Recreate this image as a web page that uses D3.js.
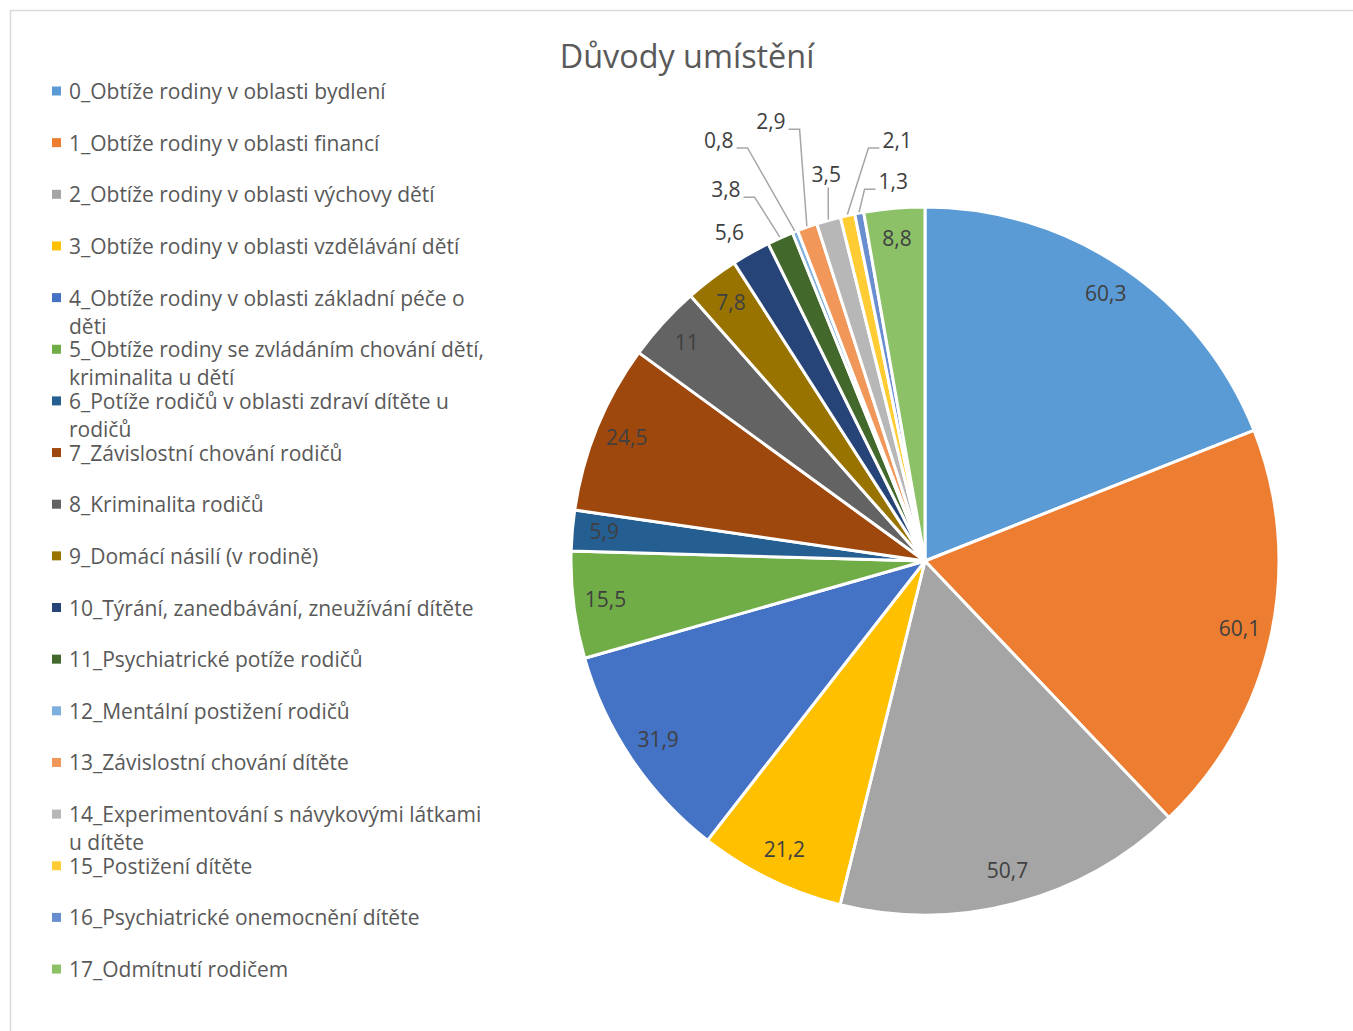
<!DOCTYPE html>
<head>
    <meta charset="utf-8">
    <script src="https://d3js.org/d3.v7.min.js"></script>
    <style>
      body { margin: 0; background: #fff; }
      text {
        font-family: "Open Sans", "Noto Sans", sans-serif;
        fill: #595959;
      }
      .charttitle { font-size: 32.4px; }
      .legendtext { font-size: 21px; }
      .datalabel { font-size: 21px; fill: #404040; }
    </style>
</head>
<body>
<script>
    var categories = [
      "0_Obtíže rodiny v oblasti bydlení",
      "1_Obtíže rodiny v oblasti financí",
      "2_Obtíže rodiny v oblasti výchovy dětí",
      "3_Obtíže rodiny v oblasti vzdělávání dětí",
      "4_Obtíže rodiny v oblasti základní péče o děti",
      "5_Obtíže rodiny se zvládáním chování dětí, kriminalita u dětí",
      "6_Potíže rodičů v oblasti zdraví dítěte u rodičů",
      "7_Závislostní chování rodičů",
      "8_Kriminalita rodičů",
      "9_Domácí násilí (v rodině)",
      "10_Týrání, zanedbávání, zneužívání dítěte",
      "11_Psychiatrické potíže rodičů",
      "12_Mentální postižení rodičů",
      "13_Závislostní chování dítěte",
      "14_Experimentování s návykovými látkami u dítěte",
      "15_Postižení dítěte",
      "16_Psychiatrické onemocnění dítěte",
      "17_Odmítnutí rodičem"
    ];
    var values = [60.3, 60.1, 50.7, 21.2, 31.9, 15.5, 5.9, 24.5, 11, 7.8, 5.6, 3.8, 0.8, 2.9, 3.5, 2.1, 1.3, 8.8];
    var colors = [
      "#5B9BD5", "#ED7D31", "#A5A5A5", "#FFC000", "#4472C4", "#70AD47",
      "#255E91", "#9E480E", "#636363", "#997300", "#264478", "#43682B",
      "#7CAFDD", "#F1975A", "#B7B7B7", "#FFCD33", "#698ED0", "#8CC168"
    ];

    // labels of the small slices sit outside the pie (radius px, angle deg from north)
    var outside = {
      10: {r: 381, a: 329.1, leader: false},
      11: {r: 420, a: 331.7, leader: true},
      12: {r: 467, a: 333.8, leader: true},
      13: {r: 464, a: 340.6, leader: true},
      14: {r: 397, a: 345.6, leader: true},
      15: {r: 420, a: 356.2, leader: true},
      16: {r: 379, a: 355.2, leader: true}
    };

    var svg_w = 1353, svg_h = 1031;
    var cx = 925, cy = 561, R = 354;

    var svg = d3.select("body").append("svg")
      .attr("width", svg_w)
      .attr("height", svg_h);

    svg.append("rect")
      .attr("x", 10.5).attr("y", 10.5)
      .attr("width", 1400).attr("height", 1100)
      .attr("fill", "none")
      .attr("stroke", "#d9d9d9")
      .attr("stroke-width", 1.5);

    svg.append("text")
      .attr("x", 687).attr("y", 55)
      .attr("text-anchor", "middle")
      .attr("dominant-baseline", "central")
      .classed("charttitle", true)
      .text("Důvody umístění");

    // PIE
    var pie = d3.pie().sort(null).value(function(d) { return d; });
    var arcs = pie(values);
    var arc = d3.arc().innerRadius(0).outerRadius(R);
    var labelArc = d3.arc().innerRadius(322).outerRadius(322);

    var g = svg.append("g").attr("transform", "translate(" + cx + "," + cy + ")");

    g.selectAll(".slice").data(arcs).enter()
      .append("path")
      .attr("d", arc)
      .attr("fill", function(d, i) { return colors[i]; })
      .attr("stroke", "#fff")
      .attr("stroke-width", 3)
      .attr("stroke-linejoin", "round");

    function fmt(v) { return String(v).replace(".", ","); }

    arcs.forEach(function(d, i) {
      var pos;
      var o = outside[i];
      if (o) {
        var rad = o.a * Math.PI / 180;
        pos = [o.r * Math.sin(rad), -o.r * Math.cos(rad)];
      } else {
        pos = labelArc.centroid(d);
      }
      var t = g.append("text")
        .attr("x", pos[0]).attr("y", pos[1] - 2)
        .attr("text-anchor", "middle")
        .attr("dominant-baseline", "central")
        .classed("datalabel", true)
        .text(fmt(values[i]));

      if (o && o.leader) {
        var b = t.node().getBBox();
        var mid = (d.startAngle + d.endAngle) / 2;
        var ax = (R + 1) * Math.sin(mid), ay = -(R + 1) * Math.cos(mid);
        var ly = pos[1] + 6;
        var pts;
        if (ax > b.x + b.width + 5) {
          var sx = b.x + b.width + 3;
          pts = [[sx, ly], [sx + 11, ly], [ax, ay]];
        } else if (ax < b.x - 5) {
          var sx2 = b.x - 3;
          pts = [[sx2, ly], [sx2 - 11, ly], [ax, ay]];
        } else {
          pts = [[pos[0] + 2, b.y + b.height - 1], [ax, ay]];
        }
        g.append("path")
          .attr("d", d3.line()(pts))
          .attr("fill", "none")
          .attr("stroke", "#a6a6a6")
          .attr("stroke-width", 1.5);
      }
    });

    // LEGEND
    var legend = svg.append("g");
    var maxW = 424;
    categories.forEach(function(name, i) {
      var y = 91 + i * 51.65;
      legend.append("rect")
        .attr("x", 52).attr("y", y - 4.5)
        .attr("width", 9).attr("height", 9)
        .attr("fill", colors[i]);
      var t = legend.append("text")
        .attr("x", 69).attr("y", y)
        .attr("dominant-baseline", "central")
        .classed("legendtext", true);
      var words = name.split(" ");
      var line = [];
      var tsp = t.append("tspan").attr("x", 69).attr("dy", 0);
      words.forEach(function(w) {
        line.push(w);
        tsp.text(line.join(" "));
        if (tsp.node().getComputedTextLength() > maxW && line.length > 1) {
          line.pop();
          tsp.text(line.join(" "));
          line = [w];
          tsp = t.append("tspan").attr("x", 69).attr("dy", 28).text(w);
        }
      });
    });
</script>
</body>
